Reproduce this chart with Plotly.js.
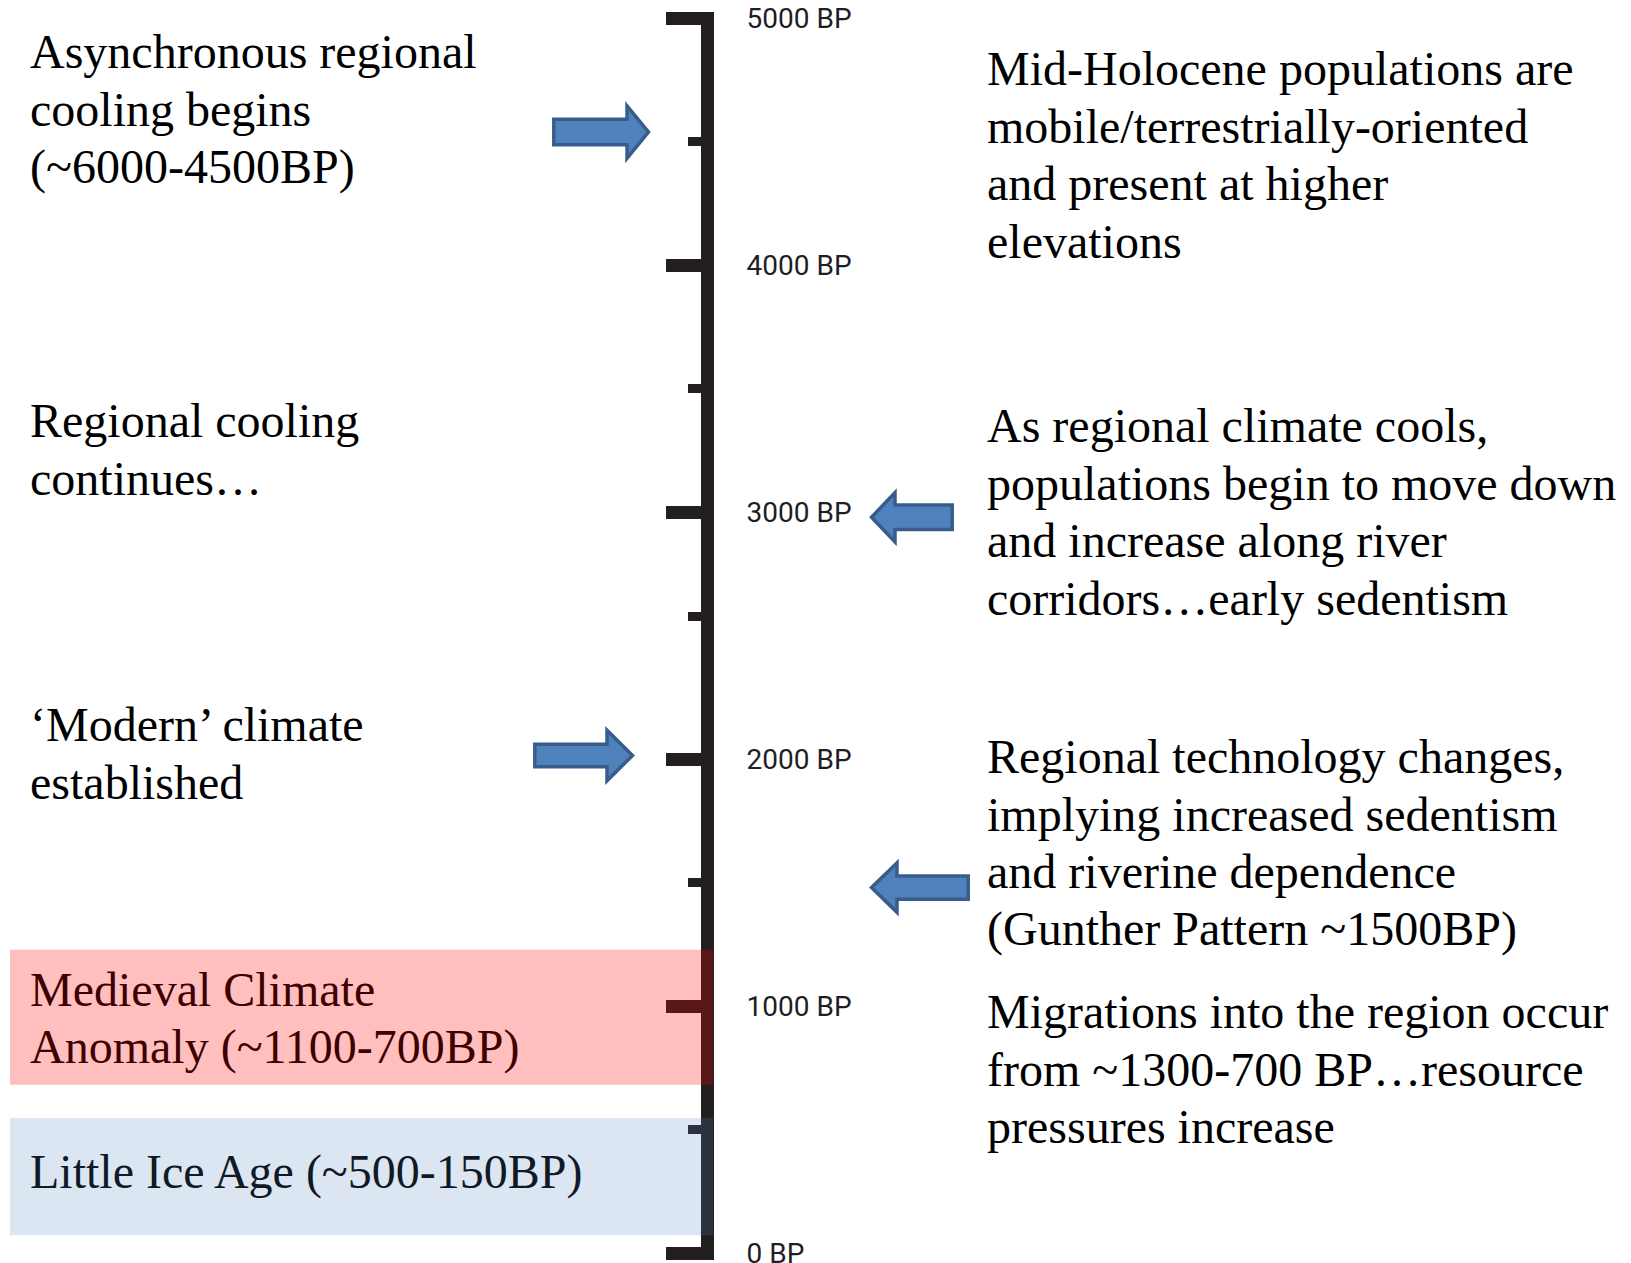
<!DOCTYPE html>
<html>
<head>
<meta charset="utf-8">
<script src="https://cdn.plot.ly/plotly-3.0.1.min.js"></script>
<style>
  html, body { margin: 0; padding: 0; background: #ffffff; }
  #chart { width: 1631px; height: 1263px; }
</style>
</head>
<body>
<div id="chart"></div>
<script>
// ---------------- data ----------------
const tickYears = [0, 1000, 2000, 3000, 4000, 5000];
const tickLabels = ['0 BP', '1000 BP', '2000 BP', '3000 BP', '4000 BP', '5000 BP'];
const minorTickYears = [500, 1500, 2580, 3500, 4500];

const periodNames = ['Medieval Climate Anomaly', 'Little Ice Age'];
const periodTopYears = [1228, 547];
const periodBottomYears = [681, 72];

const arrowYears = [4540, 2980, 2015, 1480];
const arrowDirections = ['right', 'left', 'right', 'left'];

const leftNotes = [
  ['Asynchronous regional', 'cooling begins', '(~6000-4500BP)'],
  ['Regional cooling', 'continues…'],
  ['‘Modern’ climate', 'established'],
  ['Medieval Climate', 'Anomaly (~1100-700BP)'],
  ['Little Ice Age (~500-150BP)']
];
const rightNotes = [
  ['Mid-Holocene populations are', 'mobile/terrestrially-oriented', 'and present at higher', 'elevations'],
  ['As regional climate cools,', 'populations begin to move down', 'and increase along river', 'corridors…early sedentism'],
  ['Regional technology changes,', 'implying increased sedentism', 'and riverine dependence', '(Gunther Pattern ~1500BP)'],
  ['Migrations into the region occur', 'from ~1300-700 BP…resource', 'pressures increase']
];

// ---------------- layout geometry (pixels) ----------------
const W = 1631, H = 1263;
const PX_5000 = 18.5, PX_0 = 1253;          // pixel rows of 5000 BP and 0 BP
const LINE_W = 13;
const pxPerYear = (PX_0 - PX_5000) / 5000;
const extYears = (LINE_W / 2) / pxPerYear;
const domTopPx = PX_5000 - LINE_W / 2, domBotPx = PX_0 + LINE_W / 2;
const axisX = 707;

const px2x = p => p / W;
const px2y = p => 1 - p / H;

const leftX = 29, rightX = 986, lineStep = 57.5;
const leftBaselines = [68, 437, 741, 1006, 1188];
const rightBaselines = [85, 442, 773, 1028];
const leftColors = ['#000000', '#000000', '#000000', '#400000', '#101a26'];
const baselineToMid = 16.2;

// arrow geometry: tail x, head-base x, tip x, body half-height, head half-height (px)
const arrowGeom = [
  [552, 627, 651, 14.5, 29],
  [954, 895, 869, 14, 27.5],
  [533, 607, 635, 13, 28],
  [970, 897, 869, 13.5, 27.5]
];

const annotations = [];
function addNotes(groups, baselines, x, colors) {
  groups.forEach((lines, gi) => {
    lines.forEach((txt, li) => {
      const base = baselines[gi] + li * lineStep;
      annotations.push({
        xref: 'paper', yref: 'paper',
        x: px2x(x), y: px2y(base - baselineToMid),
        xanchor: 'left', yanchor: 'middle',
        text: txt, showarrow: false, borderpad: 0,
        font: { family: 'Liberation Serif, Times New Roman, serif', size: 48, color: colors ? colors[gi] : '#000000' }
      });
    });
  });
}
addNotes(leftNotes, leftBaselines, leftX, leftColors);
addNotes(rightNotes, rightBaselines, rightX, null);

const shapes = [];
// arrows
arrowYears.forEach((yr, i) => {
  const g = arrowGeom[i];
  const inset = 1.8;
  const s = arrowDirections[i] === 'right' ? 1 : -1;
  const tail = px2x(g[0] + s * inset), base = px2x(g[1]), tip = px2x(g[2] - s * 2.5);
  const bh = (g[3] - inset) / pxPerYear, hh = (g[4] - inset - 1) / pxPerYear;
  const path = 'M' + tail + ',' + (yr + bh) +
    ' L' + base + ',' + (yr + bh) +
    ' L' + base + ',' + (yr + hh) +
    ' L' + tip + ',' + yr +
    ' L' + base + ',' + (yr - hh) +
    ' L' + base + ',' + (yr - bh) +
    ' L' + tail + ',' + (yr - bh) + ' Z';
  shapes.push({
    type: 'path', xref: 'paper', yref: 'y', path: path,
    fillcolor: '#4F81BD', line: { color: '#385D8A', width: 3.5 }, layer: 'above'
  });
});
// period boxes
const periodFills = ['rgba(255,0,0,0.25)', 'rgba(79,129,189,0.2)'];
periodNames.forEach((name, i) => {
  shapes.push({
    type: 'rect', xref: 'paper', yref: 'y',
    x0: px2x(10), x1: px2x(713),
    y0: periodBottomYears[i], y1: periodTopYears[i],
    fillcolor: periodFills[i], line: { width: 0 }, layer: 'above'
  });
});

const data = [{
  type: 'scatter', x: [0.5], y: [2500], mode: 'markers',
  marker: { opacity: 0 }, hoverinfo: 'skip', showlegend: false
}];

const layout = {
  width: W, height: H,
  margin: { l: 0, r: 0, t: 0, b: 0, pad: 0 },
  paper_bgcolor: '#ffffff', plot_bgcolor: 'rgba(0,0,0,0)',
  showlegend: false,
  xaxis: { range: [0, 1], visible: false, fixedrange: true },
  yaxis: {
    range: [-extYears, 5000 + extYears],
    domain: [1 - domBotPx / H, 1 - domTopPx / H],
    anchor: 'free', position: axisX / W, side: 'right',
    showline: true, linewidth: LINE_W, linecolor: '#231f20',
    showgrid: false, zeroline: false,
    tickmode: 'array', tickvals: tickYears, ticktext: tickLabels,
    ticks: 'inside', ticklen: 35, tickwidth: 13, tickcolor: '#231f20',
    minor: { tickmode: 'array', tickvals: minorTickYears, ticks: 'inside', ticklen: 13, tickwidth: 9, tickcolor: '#231f20', showgrid: false },
    tickfont: { family: 'Roboto, Open Sans, sans-serif', size: 28, color: '#1f1d26' },
    ticklabelstandoff: 27,
    ticklabeloverflow: 'allow',
    fixedrange: true
  },
  shapes: shapes,
  annotations: annotations
};

Plotly.newPlot('chart', data, layout, { displayModeBar: false, staticPlot: true });
</script>
</body>
</html>
